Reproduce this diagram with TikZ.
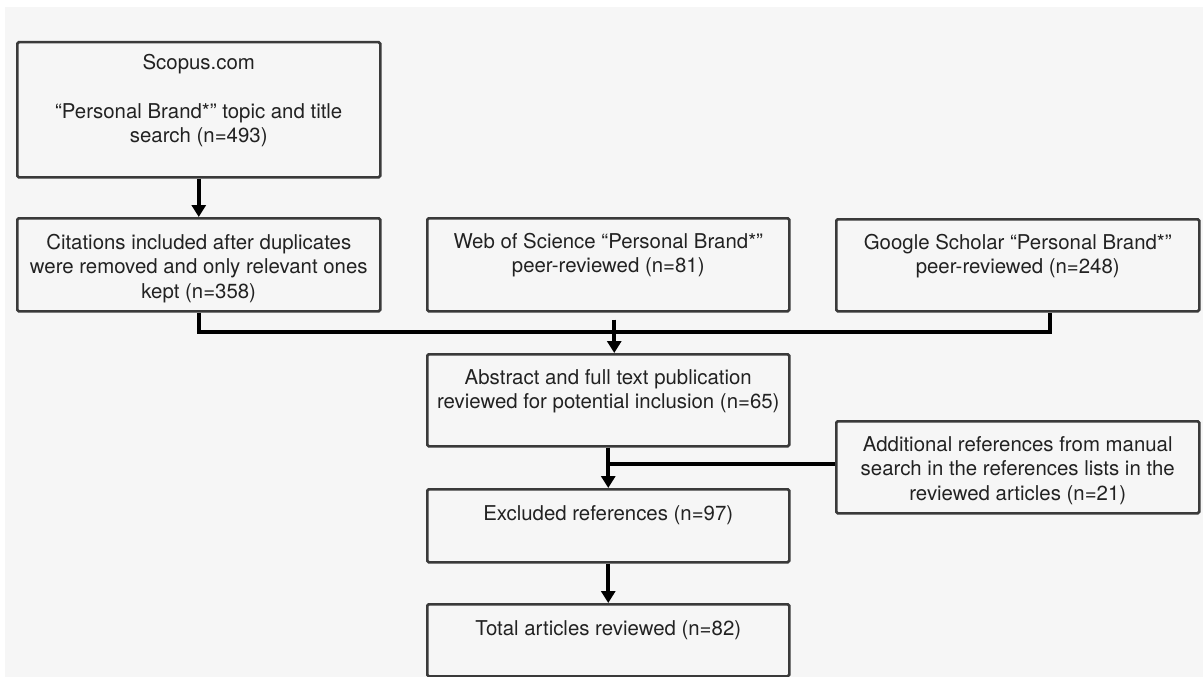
\documentclass[tikz,border=0pt]{standalone}
\usepackage{fontspec}
\setmainfont{TeX Gyre Heros}
\usetikzlibrary{arrows.meta}
\definecolor{bg}{HTML}{F6F6F6}
\definecolor{boxline}{HTML}{3A3A3A}
\definecolor{txtcol}{HTML}{222222}
\begin{document}
\begin{tikzpicture}[x=1pt,y=-1pt,
  box/.style={draw=boxline, line width=2.5pt, rounded corners=1.5pt, fill=bg, inner sep=0pt, anchor=north west},
  txt/.style={text=txtcol, align=center, inner sep=0pt, anchor=north, font=\fontsize{20.4}{24.5}\selectfont},
  conn/.style={draw=black, line width=4pt, line join=miter},
  arr/.style={conn, -{Triangle[length=12pt,width=14pt]}}]
\useasboundingbox (0,0) rectangle (1203,677);
\fill[white] (0,0) rectangle (1203,677);
\fill[bg] (5,7) rectangle (1203,677);
% boxes
\node[box, minimum width=363pt, minimum height=135pt] (b1) at (16,41) {};
\node[box, minimum width=363pt, minimum height=93pt] (b2) at (16,217) {};
\node[box, minimum width=362pt, minimum height=93pt] (b3) at (426,217) {};
\node[box, minimum width=363pt, minimum height=92pt] (b4) at (835,218) {};
\node[box, minimum width=362pt, minimum height=92pt] (b5) at (426,353) {};
\node[box, minimum width=363pt, minimum height=92pt] (b6) at (835,420) {};
\node[box, minimum width=362pt, minimum height=73pt] (b7) at (426,488) {};
\node[box, minimum width=362pt, minimum height=72pt] (b8) at (426,603) {};
% texts
\node[txt] (t1) at ([yshift=-13pt]b1.north) {Scopus.com\\[24.5pt]“Personal Brand*” topic and title\\search (n=493)};
\node[txt] (t2) at ([yshift=-17pt]b2.north) {Citations included after duplicates\\were removed and only relevant ones\\kept (n=358)};
\node[txt] (t3) at ([yshift=-16pt]b3.north) {Web of Science “Personal Brand*”\\peer-reviewed (n=81)};
\node[txt] (t4) at ([yshift=-16pt]b4.north) {Google Scholar “Personal Brand*”\\peer-reviewed (n=248)};
\node[txt] (t5) at ([yshift=-16pt]b5.north) {Abstract and full text publication\\reviewed for potential inclusion (n=65)};
\node[txt] (t6) at ([yshift=-16pt]b6.north) {Additional references from manual\\search in the references lists in the\\reviewed articles (n=21)};
\node[txt] (t7) at ([yshift=-17pt]b7.north) {Excluded references (n=97)};
\node[txt] (t8) at ([yshift=-17pt]b8.north) {Total articles reviewed (n=82)};
% connectors
\draw[arr] (b1.south) -- (b2.north);
\coordinate (jr) at ([xshift=32.5pt,yshift=-19pt]b4.south);
\draw[conn] (b2.south) |- (jr) -- ([xshift=32.5pt]b4.south);
\draw[arr] ([xshift=6pt,yshift=-7pt]b3.south) -- ([xshift=6pt]b5.north);
\draw[arr] (b5.south) -- (b7.north);
\draw[conn] ([yshift=3pt]b6.west) -- ([yshift=3pt]b6.west -| b5.south);
\draw[arr] (b7.south) -- (b8.north);
\end{tikzpicture}
\end{document}
